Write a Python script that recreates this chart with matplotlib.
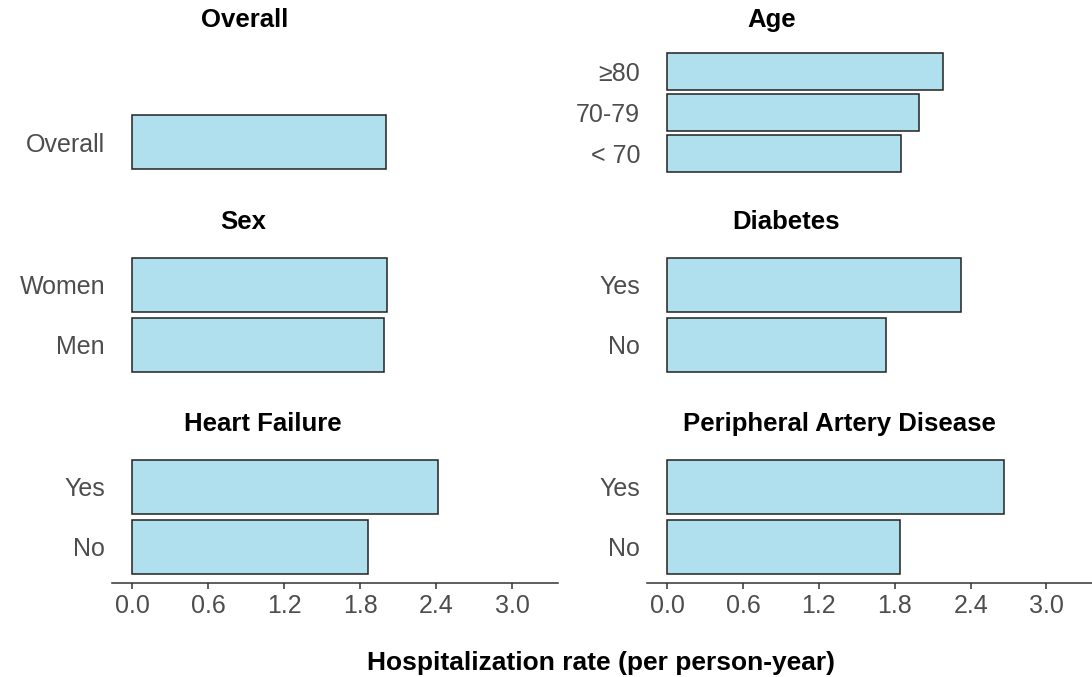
import matplotlib
matplotlib.use("Agg")
import matplotlib.pyplot as plt

plt.rcParams['font.family'] = ['Liberation Sans', 'DejaVu Sans']

# ---- data ----
overall_labels = ["Overall"]
overall_rates = [2.00]
age_labels = ["< 70", "70-79", "\u226580"]
age_rates = [1.85, 1.99, 2.18]
sex_labels = ["Men", "Women"]
sex_rates = [1.99, 2.01]
diabetes_labels = ["No", "Yes"]
diabetes_rates = [1.73, 2.32]
hf_labels = ["No", "Yes"]
hf_rates = [1.86, 2.41]
pad_labels = ["No", "Yes"]
pad_rates = [1.84, 2.66]
x_ticks = [0.0, 0.6, 1.2, 1.8, 2.4, 3.0]
x_tick_labels = ["0.0", "0.6", "1.2", "1.8", "2.4", "3.0"]
x_label = "Hospitalization rate (per person-year)"

W, H = 1092, 677
fig = plt.figure(figsize=(W / 100, H / 100), dpi=100)

BAR = "#B0DFEE"
EDGE = "#222222"
TICKC = "#4D4D4D"

col_x = [(112, 558), (647, 1092)]
row_y = [(46.5, 178), (249, 380.5), (451, 582.5)]

panels = [
    (0, 0, "Overall", overall_labels, overall_rates, 245, 2),
    (0, 1, "Age", age_labels, age_rates, 772, 3),
    (1, 0, "Sex", sex_labels, sex_rates, 243, 2),
    (1, 1, "Diabetes", diabetes_labels, diabetes_rates, 786, 2),
    (2, 0, "Heart Failure", hf_labels, hf_rates, 263, 2),
    (2, 1, "Peripheral Artery Disease", pad_labels, pad_rates, 839, 2),
]
title_y = [20, 222, 424]

for r, c, title, labels, vals, tx, nslots in panels:
    x0, x1 = col_x[c]
    y0, y1 = row_y[r]
    ax = fig.add_axes([x0 / W, 1 - y1 / H, (x1 - x0) / W, (y1 - y0) / H])
    pos = list(range(len(labels)))
    ax.barh(pos, vals, height=0.9, color=BAR, edgecolor=EDGE, linewidth=1.1)
    ax.set_xlim(-0.16, 3.36)
    ax.set_ylim(-0.6, nslots - 0.4)
    ax.set_yticks(pos)
    ax.set_yticklabels(labels, fontsize=18, color=TICKC)
    ax.tick_params(axis='y', length=0, pad=5)
    for s in ["top", "right", "left"]:
        ax.spines[s].set_visible(False)
    if r == 2:
        ax.spines["bottom"].set_color("#333333")
        ax.spines["bottom"].set_linewidth(1.1)
        ax.set_xticks(x_ticks)
        ax.set_xticklabels(x_tick_labels, fontsize=18, color=TICKC)
        ax.tick_params(axis='x', length=4, width=1.1, color="#333333", pad=4)
    else:
        ax.spines["bottom"].set_visible(False)
        ax.set_xticks([])
    ax.set_facecolor("none")
    fig.text(tx / W, 1 - title_y[r] / H, title, ha="center", va="center",
             fontsize=18.5, fontweight="bold", color="black")

fig.text(601 / W, 1 - 663 / H, x_label, ha="center", va="center",
         fontsize=19, fontweight="bold", color="black")

fig.savefig("out.png", dpi=100)
